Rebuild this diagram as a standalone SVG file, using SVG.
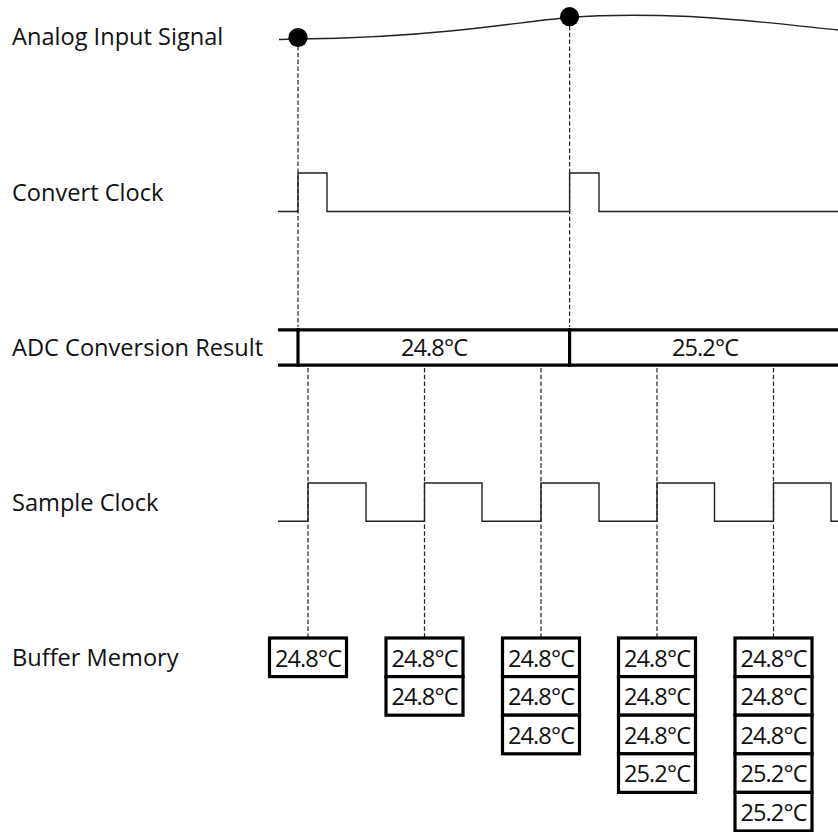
<svg xmlns="http://www.w3.org/2000/svg" width="838" height="832" viewBox="0 0 838 832">
<style>
  .lbl { font-family: "Open Sans", "Noto Sans", sans-serif; font-size: 23.6px; fill: #111; }
  .val { font-family: "Open Sans", "Noto Sans", sans-serif; font-size: 23.6px; fill: #111; text-anchor: middle; letter-spacing: -0.9px; }
  .sig { fill: none; stroke: #222; stroke-width: 1.4; }
  .bus { fill: none; stroke: #000; stroke-width: 3.2; }
  .cell { fill: #fff; stroke: #000; stroke-width: 3.2; }
  .dash { fill: none; stroke: #222; stroke-width: 1.2; stroke-dasharray: 4.5 2.3; }
</style>
<rect width="838" height="832" fill="#fff"/>

<g id="connectors">
  <line class="dash" x1="298" y1="46" x2="298" y2="327"/>
  <line class="dash" x1="569.6" y1="26" x2="569.6" y2="327"/>
  <line class="dash" x1="308" y1="368" x2="308" y2="637"/>
  <line class="dash" x1="424.5" y1="368" x2="424.5" y2="637"/>
  <line class="dash" x1="541" y1="368" x2="541" y2="637"/>
  <line class="dash" x1="657" y1="368" x2="657" y2="637"/>
  <line class="dash" x1="773.5" y1="368" x2="773.5" y2="637"/>
</g>

<g id="labels">
  <text class="lbl" x="12" y="45">Analog Input Signal</text>
  <text class="lbl" x="12" y="201">Convert Clock</text>
  <text class="lbl" x="12" y="356">ADC Conversion Result</text>
  <text class="lbl" x="12" y="511">Sample Clock</text>
  <text class="lbl" x="12" y="666">Buffer Memory</text>
</g>

<g id="analog-signal">
  <path class="sig" d="M279,39.5 L298,39 C350,38.5 400,36 450,31 C500,26 540,20 569.6,17.5 C600,15 640,14.5 690,16.5 C740,19 790,25 838,30"/>
  <circle cx="298" cy="37.5" r="9.6" fill="#000"/>
  <circle cx="569.6" cy="16.7" r="9.6" fill="#000"/>
</g>

<g id="convert-clock">
  <path class="sig" d="M278,211.5 H298 V173 H327 V211.5 H569.6 V173 H599 V211.5 H838"/>
</g>

<g id="adc-result">
  <line class="bus" x1="278" y1="329.8" x2="838" y2="329.8"/>
  <line class="bus" x1="278" y1="365.2" x2="838" y2="365.2"/>
  <line class="bus" x1="298" y1="328.2" x2="298" y2="366.8"/>
  <line class="bus" x1="569.6" y1="328.2" x2="569.6" y2="366.8"/>
  <text class="val" x="434" y="355.7">24.8°C</text>
  <text class="val" x="705" y="355.7">25.2°C</text>
</g>

<g id="sample-clock">
  <path class="sig" d="M278,521.3 H308 V483 H366 V521.3 H424.5 V483 H482 V521.3 H541 V483 H599 V521.3 H657 V483 H714.5 V521.3 H773.5 V483 H831 V521.3 H838"/>
</g>

<g id="buffer-1">
  <rect class="cell" x="269.5" y="638" width="77" height="38.6"/>
  <text class="val" x="308" y="666.5">24.8°C</text>
</g>

<g id="buffer-2">
  <rect class="cell" x="386" y="638" width="77" height="38.6"/>
  <rect class="cell" x="386" y="676.6" width="77" height="38.6"/>
  <text class="val" x="424.5" y="666.5">24.8°C</text>
  <text class="val" x="424.5" y="705.1">24.8°C</text>
</g>

<g id="buffer-3">
  <rect class="cell" x="502.5" y="638" width="77" height="38.6"/>
  <rect class="cell" x="502.5" y="676.6" width="77" height="38.6"/>
  <rect class="cell" x="502.5" y="715.2" width="77" height="38.6"/>
  <text class="val" x="541" y="666.5">24.8°C</text>
  <text class="val" x="541" y="705.1">24.8°C</text>
  <text class="val" x="541" y="743.7">24.8°C</text>
</g>

<g id="buffer-4">
  <rect class="cell" x="618.5" y="638" width="77" height="38.6"/>
  <rect class="cell" x="618.5" y="676.6" width="77" height="38.6"/>
  <rect class="cell" x="618.5" y="715.2" width="77" height="38.6"/>
  <rect class="cell" x="618.5" y="753.8" width="77" height="38.6"/>
  <text class="val" x="657" y="666.5">24.8°C</text>
  <text class="val" x="657" y="705.1">24.8°C</text>
  <text class="val" x="657" y="743.7">24.8°C</text>
  <text class="val" x="657" y="782.3">25.2°C</text>
</g>

<g id="buffer-5">
  <rect class="cell" x="735" y="638" width="77" height="38.6"/>
  <rect class="cell" x="735" y="676.6" width="77" height="38.6"/>
  <rect class="cell" x="735" y="715.2" width="77" height="38.6"/>
  <rect class="cell" x="735" y="753.8" width="77" height="38.6"/>
  <rect class="cell" x="735" y="792.4" width="77" height="38.6"/>
  <text class="val" x="773.5" y="666.5">24.8°C</text>
  <text class="val" x="773.5" y="705.1">24.8°C</text>
  <text class="val" x="773.5" y="743.7">24.8°C</text>
  <text class="val" x="773.5" y="782.3">25.2°C</text>
  <text class="val" x="773.5" y="820.9">25.2°C</text>
</g>
</svg>
